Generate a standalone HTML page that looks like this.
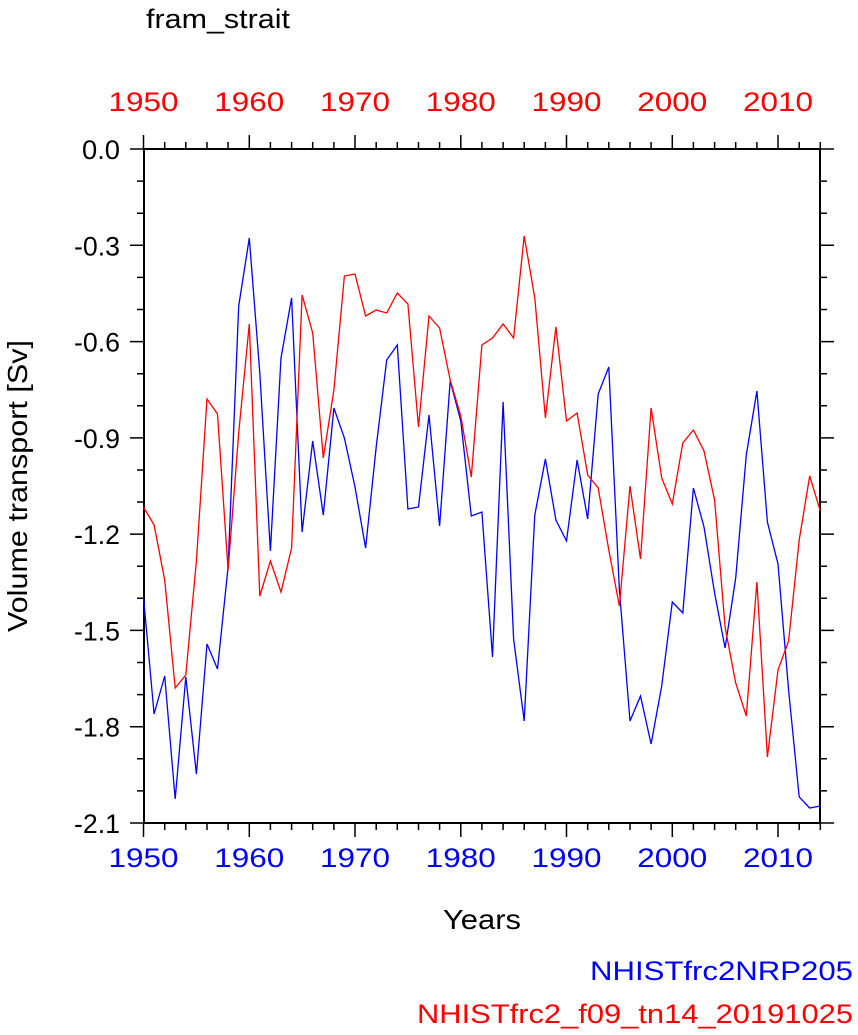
<!DOCTYPE html>
<html><head><meta charset="utf-8"><style>
html,body{margin:0;padding:0;background:#fff;}
svg{display:block;font-family:"Liberation Sans",sans-serif;}
</style></head><body>
<svg width="858" height="1035" viewBox="0 0 858 1035" xmlns="http://www.w3.org/2000/svg">
<text x="146" y="28" font-size="27" textLength="144" lengthAdjust="spacingAndGlyphs">fram_strait</text>
<path fill="none" stroke="#000" stroke-width="1.5" d="
M143.5,823v14M249.3,823v14M355,823v14M460.8,823v14M566.5,823v14M672.3,823v14M778,823v14
M143.5,149v-14M249.3,149v-14M355,149v-14M460.8,149v-14M566.5,149v-14M672.3,149v-14M778,149v-14
M164.7,823v7M185.8,823v7M207,823v7M228.1,823v7M270.4,823v7M291.6,823v7M312.7,823v7M333.9,823v7M376.2,823v7M397.3,823v7M418.5,823v7M439.6,823v7M481.9,823v7M503.1,823v7M524.2,823v7M545.4,823v7M587.7,823v7M608.8,823v7M630,823v7M651.1,823v7M693.4,823v7M714.6,823v7M735.7,823v7M756.9,823v7M799.2,823v7M820.3,823v7
M164.7,149v-7M185.8,149v-7M207,149v-7M228.1,149v-7M270.4,149v-7M291.6,149v-7M312.7,149v-7M333.9,149v-7M376.2,149v-7M397.3,149v-7M418.5,149v-7M439.6,149v-7M481.9,149v-7M503.1,149v-7M524.2,149v-7M545.4,149v-7M587.7,149v-7M608.8,149v-7M630,149v-7M651.1,149v-7M693.4,149v-7M714.6,149v-7M735.7,149v-7M756.9,149v-7M799.2,149v-7M820.3,149v-7
M144,149h-14M144,245.3h-14M144,341.6h-14M144,437.9h-14M144,534.1h-14M144,630.4h-14M144,726.7h-14M144,823h-14
M820,149h14M820,245.3h14M820,341.6h14M820,437.9h14M820,534.1h14M820,630.4h14M820,726.7h14M820,823h14
M144,181.1h-7M144,213.2h-7M144,277.4h-7M144,309.5h-7M144,373.7h-7M144,405.8h-7M144,470h-7M144,502h-7M144,566.2h-7M144,598.3h-7M144,662.5h-7M144,694.6h-7M144,758.8h-7M144,790.9h-7
M820,181.1h7M820,213.2h7M820,277.4h7M820,309.5h7M820,373.7h7M820,405.8h7M820,470h7M820,502h7M820,566.2h7M820,598.3h7M820,662.5h7M820,694.6h7M820,758.8h7M820,790.9h7"/>
<rect x="144" y="149" width="676" height="674" fill="none" stroke="#000" stroke-width="2"/>
<g font-size="27" text-anchor="middle" fill="#00f">
<text x="143.5" y="867" textLength="70" lengthAdjust="spacingAndGlyphs">1950</text>
<text x="249.3" y="867" textLength="70" lengthAdjust="spacingAndGlyphs">1960</text>
<text x="355" y="867" textLength="70" lengthAdjust="spacingAndGlyphs">1970</text>
<text x="460.8" y="867" textLength="70" lengthAdjust="spacingAndGlyphs">1980</text>
<text x="566.5" y="867" textLength="70" lengthAdjust="spacingAndGlyphs">1990</text>
<text x="672.3" y="867" textLength="70" lengthAdjust="spacingAndGlyphs">2000</text>
<text x="778" y="867" textLength="70" lengthAdjust="spacingAndGlyphs">2010</text>
</g>
<g font-size="27" text-anchor="middle" fill="#f00">
<text x="143.5" y="111" textLength="70" lengthAdjust="spacingAndGlyphs">1950</text>
<text x="249.3" y="111" textLength="70" lengthAdjust="spacingAndGlyphs">1960</text>
<text x="355" y="111" textLength="70" lengthAdjust="spacingAndGlyphs">1970</text>
<text x="460.8" y="111" textLength="70" lengthAdjust="spacingAndGlyphs">1980</text>
<text x="566.5" y="111" textLength="70" lengthAdjust="spacingAndGlyphs">1990</text>
<text x="672.3" y="111" textLength="70" lengthAdjust="spacingAndGlyphs">2000</text>
<text x="778" y="111" textLength="70" lengthAdjust="spacingAndGlyphs">2010</text>
</g>
<g font-size="27" text-anchor="end" fill="#000">
<text x="120" y="159" textLength="38" lengthAdjust="spacingAndGlyphs">0.0</text>
<text x="120" y="255.3" textLength="46" lengthAdjust="spacingAndGlyphs">-0.3</text>
<text x="120" y="351.6" textLength="46" lengthAdjust="spacingAndGlyphs">-0.6</text>
<text x="120" y="447.9" textLength="46" lengthAdjust="spacingAndGlyphs">-0.9</text>
<text x="120" y="544.1" textLength="46" lengthAdjust="spacingAndGlyphs">-1.2</text>
<text x="120" y="640.4" textLength="46" lengthAdjust="spacingAndGlyphs">-1.5</text>
<text x="120" y="736.7" textLength="46" lengthAdjust="spacingAndGlyphs">-1.8</text>
<text x="120" y="833" textLength="46" lengthAdjust="spacingAndGlyphs">-2.1</text>
</g>
<text x="482" y="929" font-size="28" text-anchor="middle" textLength="78" lengthAdjust="spacingAndGlyphs">Years</text>
<text transform="translate(27,486) rotate(-90)" font-size="28" text-anchor="middle" textLength="292" lengthAdjust="spacingAndGlyphs">Volume transport [Sv]</text>
<text x="853" y="980" font-size="27" text-anchor="end" fill="#00f" textLength="263" lengthAdjust="spacingAndGlyphs">NHISTfrc2NRP205</text>
<text x="853" y="1023" font-size="27" text-anchor="end" fill="#f00" textLength="436" lengthAdjust="spacingAndGlyphs">NHISTfrc2_f09_tn14_20191025</text>
<polyline fill="none" stroke="#00f" stroke-width="1.3" points="143.5,597 154.1,714 164.7,676 175.2,799 185.8,677 196.4,774 207,644 217.5,669 228.1,567 238.7,306 249.3,238 259.8,373 270.4,551 281,358 291.6,298 302.1,532 312.7,441 323.3,515 333.9,408 344.4,438 355,487 365.6,548 376.2,447 386.7,360 397.3,345 407.9,509 418.5,507 429,415 439.6,526 450.2,381 460.8,421 471.3,516 481.9,512 492.5,657 503.1,402 513.6,639 524.2,721 534.8,515 545.4,459 555.9,520 566.5,541 577.1,460 587.7,519 598.2,394 608.8,367 619.4,590 630,721 640.5,696 651.1,744 661.7,686 672.3,602 682.8,613 693.4,488 704,527 714.6,593 725.1,648 735.7,578 746.3,455 756.9,391 767.4,522 778,564 788.6,690 799.2,797 809.7,808 820.3,806"/>
<polyline fill="none" stroke="#f00" stroke-width="1.3" points="143.5,507 154.1,525 164.7,580 175.2,688 185.8,675 196.4,561 207,399 217.5,414 228.1,570 238.7,433 249.3,324 259.8,596 270.4,561 281,592 291.6,548 302.1,295 312.7,333 323.3,458 333.9,390 344.4,276 355,274 365.6,316 376.2,310 386.7,313 397.3,293 407.9,304 418.5,427 429,316 439.6,328 450.2,380 460.8,416 471.3,477 481.9,345 492.5,338 503.1,324 513.6,338 524.2,236 534.8,298 545.4,418 555.9,327 566.5,421 577.1,413 587.7,475 598.2,488 608.8,550 619.4,606 630,486 640.5,559 651.1,408 661.7,478 672.3,504 682.8,443 693.4,430 704,451 714.6,500 725.1,627 735.7,683 746.3,716 756.9,582 767.4,757 778,670 788.6,641 799.2,540 809.7,476 820.3,511"/>
</svg>
</body></html>
